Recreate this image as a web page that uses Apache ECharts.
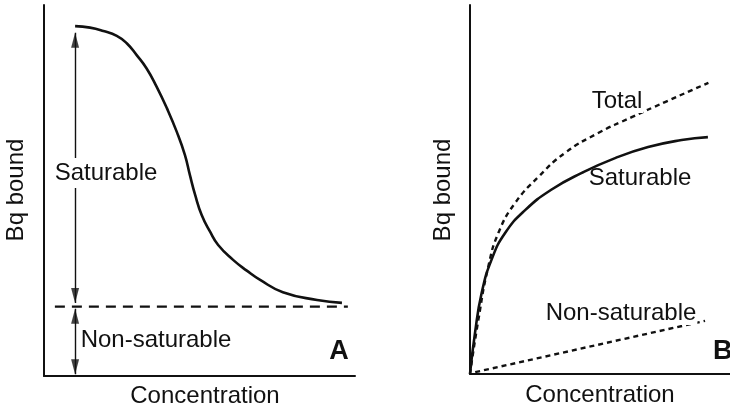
<!DOCTYPE html>
<html>
<head>
<meta charset="utf-8">
<script src="https://cdn.jsdelivr.net/npm/echarts@6/dist/echarts.min.js"></script>
<style>
  html, body { margin: 0; padding: 0; background: #fff; }
  #main { width: 730px; height: 410px; }
</style>
</head>
<body>
<div id="main"></div>
<script>
// panel A: displacement curve (concentration, bound)
var curveA = [[10,94.3],[14.8,93.9],[19.1,93],[23.4,91.7],[26.6,89.7],[29.8,86.5],[33,82.9],[36.2,78],
  [39.5,72.2],[42.7,65.8],[45.3,59.6],[46.9,54.2],[48.6,48.8],[50.7,43.4],[53.4,38.9],[56,35.3],
  [60.8,31.3],[65.2,28.4],[69.5,25.9],[76.8,22.6],[87.8,20.5],[95.8,19.7]];
var baselineA = [[3.5,18.7],[97.7,18.7]];
// arrows in panel A: [x, fromY, toY]
var arrowsA = [[10,92.5,19.7],[10,18.1,0.5]];

// panel B: saturation curves
var saturableB = [[0,0],[1.9,11],[4.5,22],[8.3,31],[13.5,38.2],[21.2,44.4],[31.4,50],[43,54.5],
  [55.8,58.5],[68.5,61.5],[81.4,63.4],[91.5,64.2]];
var totalB = [[0,0],[3.2,14.6],[7,29],[10.9,38.2],[17.3,46.3],[26.3,53.4],[36.5,59.9],[49.3,65.3],
  [62.2,69.6],[75,73.7],[91.7,78.9]];
var nonSatB = [[2,0.5],[90.4,14.4]];

var font = '"Liberation Sans", Arial, Helvetica, sans-serif';
var ink = '#111';

var chart = echarts.init(document.getElementById('main'));

function axisX(gi) {
  return {
    gridIndex: gi, type: 'value', min: 0, max: 100,
    axisLine: { show: true, lineStyle: { color: ink, width: 2 } },
    axisTick: { show: false }, axisLabel: { show: false }, splitLine: { show: false }
  };
}
function axisY(gi) {
  return {
    gridIndex: gi, type: 'value', min: 0, max: 100,
    axisLine: { show: true, lineStyle: { color: ink, width: 2 } },
    axisTick: { show: false }, axisLabel: { show: false }, splitLine: { show: false }
  };
}

var shafts = arrowsA.map(function (a) {
  return { coords: [[a[0], a[1]], [a[0], a[2]]] };
});
var headsUp = arrowsA.map(function (a) { return [a[0], a[1]]; });
var headsDown = arrowsA.map(function (a) { return [a[0], a[2]]; });

function txt(x, y, s, extra) {
  var o = {
    type: 'text', x: x, y: y, z: 10,
    style: { text: s, font: '24px ' + font, fill: ink, align: 'center', verticalAlign: 'middle' }
  };
  if (extra) Object.assign(o.style, extra);
  return o;
}

chart.setOption({
  backgroundColor: '#fff',
  animation: false,
  grid: [
    { left: 44, top: 5, width: 311, height: 371 },
    { left: 470, top: 5, width: 260, height: 369 }
  ],
  xAxis: [axisX(0), axisX(1)],
  yAxis: [axisY(0), axisY(1)],
  series: [
    {
      type: 'line', xAxisIndex: 0, yAxisIndex: 0, data: curveA, smooth: true,
      showSymbol: false, lineStyle: { color: ink, width: 2.6 }
    },
    {
      type: 'line', xAxisIndex: 0, yAxisIndex: 0, data: baselineA, showSymbol: false,
      lineStyle: { color: ink, width: 2.4, type: [10, 7] }
    },
    {
      type: 'lines', coordinateSystem: 'cartesian2d', xAxisIndex: 0, yAxisIndex: 0,
      data: shafts, symbol: 'none', lineStyle: { color: ink, width: 1.4, opacity: 1 }
    },
    {
      type: 'scatter', xAxisIndex: 0, yAxisIndex: 0, data: headsUp, symbol: 'triangle',
      symbolSize: [8, 15], symbolOffset: [0, 7.5], itemStyle: { color: ink }
    },
    {
      type: 'scatter', xAxisIndex: 0, yAxisIndex: 0, data: headsDown, symbol: 'triangle',
      symbolSize: [8, 15], symbolRotate: 180, symbolOffset: [0, -7.5], itemStyle: { color: ink }
    },
    {
      type: 'line', xAxisIndex: 1, yAxisIndex: 1, data: saturableB, smooth: true,
      showSymbol: false, lineStyle: { color: ink, width: 2.6 }
    },
    {
      type: 'line', xAxisIndex: 1, yAxisIndex: 1, data: totalB, smooth: true,
      showSymbol: false, lineStyle: { color: ink, width: 2.4, type: [5, 4] }
    },
    {
      type: 'line', xAxisIndex: 1, yAxisIndex: 1, data: nonSatB, showSymbol: false,
      lineStyle: { color: ink, width: 2.4, type: [5, 4] }
    }
  ],
  graphic: [
    txt(106, 173, 'Saturable', { backgroundColor: '#fff', padding: [3, 0] }),
    txt(156, 340, 'Non-saturable'),
    txt(339, 352, 'A', { font: 'bold 27px ' + font }),
    txt(205, 396, 'Concentration'),
    { type: 'text', x: 16, y: 190, rotation: Math.PI / 2, z: 10,
      style: { text: 'Bq bound', font: '24px ' + font, fill: ink, align: 'center', verticalAlign: 'middle' } },
    txt(617, 101, 'Total', { backgroundColor: '#fff', padding: [0, 1] }),
    txt(640, 178, 'Saturable'),
    txt(621, 313, 'Non-saturable', { backgroundColor: '#fff', padding: [0, 1] }),
    txt(713, 352, 'B', { font: 'bold 27px ' + font, align: 'left' }),
    txt(600, 395, 'Concentration'),
    { type: 'text', x: 443, y: 190, rotation: Math.PI / 2, z: 10,
      style: { text: 'Bq bound', font: '24px ' + font, fill: ink, align: 'center', verticalAlign: 'middle' } }
  ]
});
</script>
</body>
</html>
